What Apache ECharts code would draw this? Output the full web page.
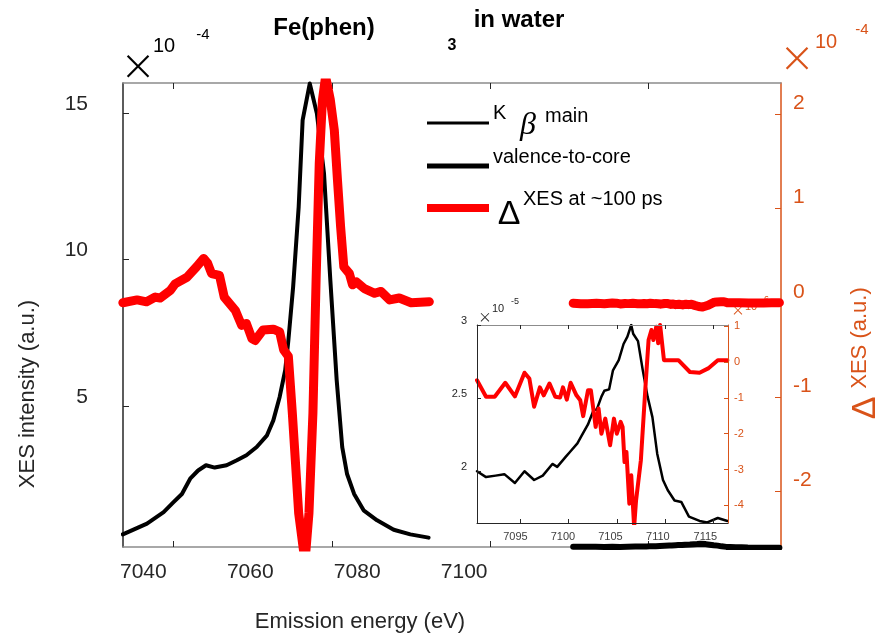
<!DOCTYPE html>
<html>
<head>
<meta charset="utf-8">
<script src="https://cdn.jsdelivr.net/npm/echarts@6/dist/echarts.min.js"></script>
<style>html,body{margin:0;padding:0;background:#fff;}#c{width:875px;height:637px;}</style>
</head>
<body>
<div id="c"></div>
<script>
// ---- data (main Kbeta region, units 1e-4) ----
var kbEnergy = [7033.6,7036.65,7038.75,7040.0,7041.06,7042.1,7043.1,7044.1,7045.2,7046.7,7048.0,7049.2,7050.5,7051.8,7052.6,7053.4,7054.1,7054.5,7055.1,7055.8,7056.3,7057.2,7058.1,7059.0,7059.8,7060.6,7061.3,7061.9,7062.8,7064.0,7065.7,7067.8,7069.9,7072.2];
var kbIntensity = [0.62,0.99,1.38,1.72,2.0,2.52,2.80,2.98,2.90,2.98,3.15,3.32,3.60,4.0,4.51,5.31,6.22,7.24,9.06,11.79,14.75,16.0,14.98,12.93,9.29,5.88,3.6,2.69,2.0,1.44,1.10,0.78,0.62,0.51];
var dxesEnergy = [7033.6,7035.4,7036.6,7037.7,7038.3,7039.6,7040.2,7041.7,7042.9,7043.8,7044.3,7044.8,7045.8,7046.4,7047.8,7048.6,7049.2,7049.9,7050.3,7051.3,7052.6,7053.4,7053.9,7054.5,7055.0,7055.4,7055.8,7056.6,7057.1,7057.6,7058.0,7058.4,7058.8,7059.2,7059.8,7060.3,7060.7,7061.1,7061.5,7062.2,7062.6,7063.1,7064.1,7065.4,7066.2,7067.3,7068.5,7070.0,7072.3];
var dxesValues = [0.0,0.03,0.01,0.06,0.05,0.13,0.20,0.27,0.38,0.47,0.42,0.31,0.29,0.06,-0.08,-0.24,-0.22,-0.38,-0.40,-0.29,-0.28,-0.31,-0.50,-0.57,-1.17,-1.70,-2.23,-2.75,-2.23,-1.17,0.24,1.48,2.15,2.40,2.15,1.83,1.30,0.80,0.38,0.31,0.19,0.22,0.15,0.10,0.12,0.03,0.05,0.0,0.01];
// ---- data (valence-to-core region; intensity in 1e-5, difference in 1e-6) ----
var vtcEnergy = [7090.46,7091.4,7092.4,7093.3,7094.4,7095.4,7096.4,7097.3,7098.3,7098.8,7099.7,7100.1,7100.9,7101.4,7102.0,7102.6,7102.9,7103.4,7103.7,7104.2,7104.6,7105.2,7105.7,7106.1,7106.5,7106.7,7107.2,7107.7,7108.2,7108.7,7109.2,7109.8,7110.3,7111.0,7111.7,7112.5,7113.6,7114.4,7115.5,7116.5];
var vtcIntensity = [2.00,1.96,1.97,1.98,1.92,2.00,1.94,1.97,2.05,2.03,2.10,2.13,2.19,2.25,2.32,2.42,2.42,2.51,2.55,2.56,2.69,2.76,2.87,2.92,3.0,2.94,2.89,2.69,2.51,2.37,2.12,1.94,1.87,1.80,1.79,1.69,1.66,1.65,1.68,1.66];
var dVtcEnergy = [7090.46,7091.4,7092.3,7093.4,7094.4,7095.4,7095.9,7096.4,7097.0,7097.4,7098.0,7098.6,7099.1,7099.4,7099.8,7100.2,7100.8,7101.2,7101.5,7102.0,7102.3,7102.8,7103.1,7103.4,7103.8,7104.3,7104.7,7105.0,7105.4,7105.6,7105.8,7106.0,7106.3,7106.5,7106.8,7107.0,7107.5,7108.0,7108.3,7108.6,7108.8,7109.1,7109.3,7109.5,7109.9,7111.4,7112.6,7113.6,7114.5,7115.5,7116.5];
var dVtcValues = [-0.51,-0.97,-0.97,-0.58,-0.96,-0.30,-0.46,-1.25,-0.71,-0.93,-0.60,-0.97,-0.99,-0.71,-1.05,-0.58,-0.93,-1.07,-1.51,-0.79,-0.79,-1.81,-1.30,-2.00,-1.58,-2.32,-1.58,-2.00,-1.67,-1.81,-2.79,-2.51,-3.95,-3.16,-4.60,-3.86,-2.74,-0.60,0.61,0.89,0.61,0.98,0.52,1.03,0.05,0.05,-0.28,-0.30,-0.18,0.05,0.05];
// ---- ticks / labels ----
var mainTicks = [7040, 7060, 7080, 7100];
var leftTicks = [5, 10, 15];
var rightTicks = [-2, -1, 0, 1, 2];
var insetXTicks = [7095, 7100, 7105, 7110, 7115];
var insetLeftTicks = [2, 2.5, 3];
var insetRightTicks = [-4, -3, -2, -1, 0, 1];

function zip(a, b, f) { var o = []; for (var i = 0; i < a.length; i++) o.push([a[i], f ? f(b[i]) : b[i]]); return o; }
function plain(v) { return String(v); }

var FONT = '"Liberation Sans", Arial, Helvetica, sans-serif';
var THIN = '200 52px Inter, "DejaVu Sans", sans-serif';
var ORANGE = '#D95319';
var DARK = '#262626';
var chart = echarts.init(document.getElementById('c'), null, {renderer: 'canvas'});

function lineSeries(name, data, xi, yi, color, width, z) {
  return {name: name, type: 'line', data: data, xAxisIndex: xi, yAxisIndex: yi, showSymbol: false, symbol: 'none',
    lineStyle: {color: color, width: width, join: 'round', cap: 'round'}, z: z, clip: true, animation: false};
}

var option = {
  animation: false,
  textStyle: {fontFamily: FONT},
  grid: [
    {left: 123, right: 94, top: 83, bottom: 90, show: false},
    {left: 477, right: 147, top: 325, bottom: 114, show: true, backgroundColor: '#fff', borderWidth: 0, z: 1}
  ],
  xAxis: [
    {gridIndex: 0, type: 'value', position: 'bottom', min: 7033.62, max: 7116.7,
      axisLine: {show: true, onZero: false, lineStyle: {color: '#8c8c8c', width: 1.5}},
      axisTick: {show: true, inside: true, length: 6, customValues: mainTicks, lineStyle: {color: DARK}},
      axisLabel: {show: false}, splitLine: {show: false}},
    {gridIndex: 0, type: 'value', position: 'bottom', min: 7036.2, max: 7159.25,
      axisLine: {show: false, onZero: false}, axisTick: {show: false},
      axisLabel: {show: true, customValues: mainTicks, formatter: plain, margin: 15, fontSize: 21, color: DARK, fontFamily: FONT},
      splitLine: {show: false}},
    {gridIndex: 0, type: 'value', position: 'top', min: 7033.62, max: 7116.7,
      axisLine: {show: true, onZero: false, lineStyle: {color: '#8c8c8c', width: 1.5}},
      axisTick: {show: true, inside: true, length: 6, customValues: mainTicks, lineStyle: {color: DARK}},
      axisLabel: {show: false}, splitLine: {show: false}},
    {gridIndex: 1, type: 'value', position: 'bottom', min: 7090.46, max: 7116.56, z: 8,
      axisLine: {show: true, onZero: false, lineStyle: {color: DARK, width: 1}},
      axisTick: {show: true, inside: true, length: 4, customValues: insetXTicks, lineStyle: {color: DARK}},
      axisLabel: {show: false}, splitLine: {show: false}},
    {gridIndex: 1, type: 'value', position: 'bottom', min: 7090.96, max: 7117.38, z: 8,
      axisLine: {show: false, onZero: false}, axisTick: {show: false},
      axisLabel: {show: true, customValues: insetXTicks, formatter: plain, margin: 8, fontSize: 11, color: '#404040', fontFamily: FONT},
      splitLine: {show: false}},
    {gridIndex: 1, type: 'value', position: 'top', min: 7090.46, max: 7116.56, z: 8,
      axisLine: {show: true, onZero: false, lineStyle: {color: '#8c8c8c', width: 1}},
      axisTick: {show: true, inside: true, length: 4, customValues: insetXTicks, lineStyle: {color: DARK}},
      axisLabel: {show: false}, splitLine: {show: false}}
  ],
  yAxis: [
    {gridIndex: 0, type: 'value', position: 'left', min: 0.19, max: 16.02,
      axisLine: {show: true, onZero: false, lineStyle: {color: DARK, width: 1.5}},
      axisTick: {show: true, inside: true, length: 6, customValues: leftTicks, lineStyle: {color: DARK}},
      axisLabel: {show: true, customValues: leftTicks, formatter: plain, margin: 35, fontSize: 21, color: DARK, fontFamily: FONT, verticalAlign: 'bottom', lineHeight: 18},
      splitLine: {show: false}},
    {gridIndex: 0, type: 'value', position: 'right', min: -2.59, max: 2.33,
      axisLine: {show: true, onZero: false, lineStyle: {color: ORANGE, width: 1.5}},
      axisTick: {show: true, inside: true, length: 6, customValues: rightTicks, lineStyle: {color: ORANGE}},
      axisLabel: {show: true, customValues: rightTicks, formatter: plain, margin: 12, fontSize: 21, color: ORANGE, fontFamily: FONT, verticalAlign: 'bottom', lineHeight: 22},
      splitLine: {show: false}},
    {gridIndex: 1, type: 'value', position: 'left', min: 1.646, max: 3.0, z: 8,
      axisLine: {show: true, onZero: false, lineStyle: {color: DARK, width: 1}},
      axisTick: {show: true, inside: true, length: 4, customValues: insetLeftTicks, lineStyle: {color: DARK}},
      axisLabel: {show: true, customValues: insetLeftTicks, formatter: plain, margin: 10, fontSize: 11, color: DARK, fontFamily: FONT, verticalAlign: 'bottom', lineHeight: 8},
      splitLine: {show: false}},
    {gridIndex: 1, type: 'value', position: 'right', min: -4.49, max: 1.03, z: 8,
      axisLine: {show: true, onZero: false, lineStyle: {color: ORANGE, width: 1}},
      axisTick: {show: true, inside: true, length: 4, customValues: insetRightTicks, lineStyle: {color: ORANGE}},
      axisLabel: {show: true, customValues: insetRightTicks, formatter: plain, margin: 6, fontSize: 11, color: ORANGE, fontFamily: FONT},
      splitLine: {show: false}}
  ],
  series: [
    lineSeries('Kβ main', zip(kbEnergy, kbIntensity), 0, 0, '#000', 4, 2),
    lineSeries('valence-to-core', zip(vtcEnergy, vtcIntensity, function (v) { return v / 10; }), 0, 0, '#000', 6, 2),
    lineSeries('ΔXES at ~100 ps', zip(dxesEnergy, dxesValues), 0, 1, '#ff0000', 9, 3),
    lineSeries('ΔXES VtC', zip(dVtcEnergy, dVtcValues, function (v) { return v / 100; }), 0, 1, '#ff0000', 9, 3),
    lineSeries('VtC inset', zip(vtcEnergy, vtcIntensity), 3, 2, '#000', 2.5, 5),
    lineSeries('ΔVtC inset', zip(dVtcEnergy, dVtcValues), 3, 3, '#ff0000', 4, 6)
  ],
  graphic: [
    // title
    {type: 'text', x: 324, y: 28, z: 0, style: {text: 'Fe(phen)', font: 'bold 24px ' + FONT, fill: '#000', textAlign: 'center', textVerticalAlign: 'middle'}},
    {type: 'text', x: 452, y: 46, z: 0, style: {text: '3', font: 'bold 16px ' + FONT, fill: '#000', textAlign: 'center', textVerticalAlign: 'middle'}},
    {type: 'text', x: 519, y: 20, z: 0, style: {text: 'in water', font: 'bold 24px ' + FONT, fill: '#000', textAlign: 'center', textVerticalAlign: 'middle'}},
    // left exponent
    {type: 'text', x: 138, y: 65, z: 0, style: {text: '×', font: THIN, fill: '#000', textAlign: 'center', textVerticalAlign: 'middle'}},
    {type: 'text', x: 153, y: 46, z: 0, style: {text: '10', font: '20px ' + FONT, fill: '#000', textAlign: 'left', textVerticalAlign: 'middle'}},
    {type: 'text', x: 203, y: 35, z: 0, style: {text: '-4', font: '15px ' + FONT, fill: '#000', textAlign: 'center', textVerticalAlign: 'middle'}},
    // right exponent
    {type: 'text', x: 797, y: 57, z: 0, style: {text: '×', font: THIN, fill: ORANGE, textAlign: 'center', textVerticalAlign: 'middle'}},
    {type: 'text', x: 815, y: 42, z: 0, style: {text: '10', font: '20px ' + FONT, fill: ORANGE, textAlign: 'left', textVerticalAlign: 'middle'}},
    {type: 'text', x: 862, y: 30, z: 0, style: {text: '-4', font: '15px ' + FONT, fill: ORANGE, textAlign: 'center', textVerticalAlign: 'middle'}},
    // axis names
    {type: 'text', x: 28, y: 394, rotation: Math.PI / 2, z: 0, style: {text: 'XES intensity (a.u.)', font: '22px ' + FONT, fill: DARK, textAlign: 'center', textVerticalAlign: 'middle'}},
    {type: 'text', x: 360, y: 622, z: 0, style: {text: 'Emission energy (eV)', font: '22px ' + FONT, fill: DARK, textAlign: 'center', textVerticalAlign: 'middle'}},
    {type: 'text', x: 866, y: 408, rotation: Math.PI / 2, z: 0, style: {text: 'Δ', font: '34px ' + FONT, fill: ORANGE, textAlign: 'center', textVerticalAlign: 'middle'}},
    {type: 'text', x: 860, y: 338, rotation: Math.PI / 2, z: 0, style: {text: 'XES (a.u.)', font: '22px ' + FONT, fill: ORANGE, textAlign: 'center', textVerticalAlign: 'middle'}},
    // legend
    {type: 'line', z: 0, shape: {x1: 427, y1: 123, x2: 489, y2: 123}, style: {stroke: '#000', lineWidth: 3}},
    {type: 'text', x: 493, y: 113, z: 0, style: {text: 'K', font: '20px ' + FONT, fill: '#000', textAlign: 'left', textVerticalAlign: 'middle'}},
    {type: 'text', x: 528, y: 126, z: 0, style: {text: 'β', font: 'italic 32px "Liberation Serif", "DejaVu Serif", serif', fill: '#000', textAlign: 'center', textVerticalAlign: 'middle'}},
    {type: 'text', x: 545, y: 116, z: 0, style: {text: 'main', font: '20px ' + FONT, fill: '#000', textAlign: 'left', textVerticalAlign: 'middle'}},
    {type: 'line', z: 0, shape: {x1: 427, y1: 166, x2: 489, y2: 166}, style: {stroke: '#000', lineWidth: 5}},
    {type: 'text', x: 493, y: 157, z: 0, style: {text: 'valence-to-core', font: '20px ' + FONT, fill: '#000', textAlign: 'left', textVerticalAlign: 'middle'}},
    {type: 'line', z: 0, shape: {x1: 427, y1: 208, x2: 489, y2: 208}, style: {stroke: '#ff0000', lineWidth: 8}},
    {type: 'text', x: 509, y: 215, z: 0, style: {text: 'Δ', font: '34px ' + FONT, fill: '#000', textAlign: 'center', textVerticalAlign: 'middle'}},
    {type: 'text', x: 523, y: 199, z: 0, style: {text: 'XES at ~100 ps', font: '20px ' + FONT, fill: '#000', textAlign: 'left', textVerticalAlign: 'middle'}},
    // inset exponents
    {type: 'text', x: 485, y: 317, z: 0, style: {text: '×', font: '200 20px Inter, sans-serif', fill: DARK, textAlign: 'center', textVerticalAlign: 'middle'}},
    {type: 'text', x: 492, y: 309, z: 0, style: {text: '10', font: '11px ' + FONT, fill: DARK, textAlign: 'left', textVerticalAlign: 'middle'}},
    {type: 'text', x: 515, y: 302, z: 0, style: {text: '-5', font: '9px ' + FONT, fill: DARK, textAlign: 'center', textVerticalAlign: 'middle'}},
    {type: 'text', x: 738, y: 310, z: 0, style: {text: '×', font: '200 20px Inter, sans-serif', fill: ORANGE, textAlign: 'center', textVerticalAlign: 'middle'}},
    {type: 'text', x: 745, y: 307, z: 0, style: {text: '10', font: '11px ' + FONT, fill: ORANGE, textAlign: 'left', textVerticalAlign: 'middle'}},
    {type: 'text', x: 765, y: 300, z: 0, style: {text: '-6', font: '9px ' + FONT, fill: ORANGE, textAlign: 'center', textVerticalAlign: 'middle'}}
  ]
};
chart.setOption(option);
</script>
</body>
</html>
